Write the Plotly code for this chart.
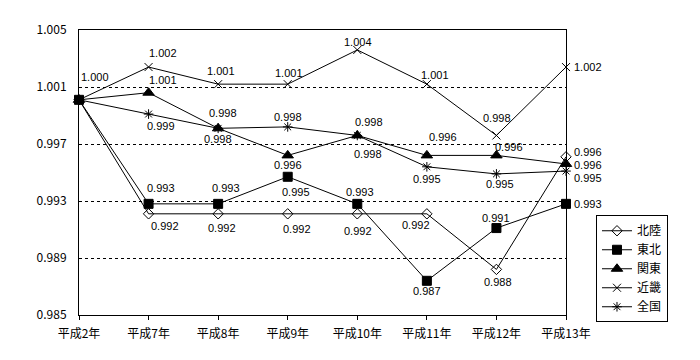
import plotly.graph_objects as go

categories = ["平成2年", "平成7年", "平成8年", "平成9年", "平成10年", "平成11年", "平成12年", "平成13年"]
hokuriku = [1.0001, 0.9921, 0.9921, 0.9921, 0.9921, 0.9921, 0.9882, 0.9961]
tohoku = [1.0001, 0.9928, 0.9928, 0.9947, 0.9928, 0.9874, 0.9911, 0.9928]
kanto = [1.0001, 1.0006, 0.9981, 0.9962, 0.9976, 0.9962, 0.9962, 0.9956]
kinki = [1.0001, 1.0024, 1.0012, 1.0012, 1.0036, 1.0012, 0.9976, 1.0024]
zenkoku = [1.0001, 0.9991, 0.9981, 0.9982, 0.9976, 0.9954, 0.9949, 0.9951]
series_names = ["北陸", "東北", "関東", "近畿", "全国"]
y_ticks = [0.985, 0.989, 0.993, 0.997, 1.001, 1.005]

series_vals = [hokuriku, tohoku, kanto, kinki, zenkoku]
symbols = ["diamond-open", "square", "triangle-up", "x-thin-open", "asterisk-open"]
sizes = [8, 9, 10, 8, 8]

# label offsets (dx, dy in px; dy positive = down), None = no label
offsets = {
    "北陸": [None, (16, 12), (4, 14), (9, 15), (1, 17), (-11, 11), (2, 13), (22, -5)],
    "東北": [None, (12, -16), (8, -16), (8, 15), (3, -12), (0, 10), (0, -10), (22, 0)],
    "関東": [None, (14, -13), (0, 11), (0, 10), (11, 19), (16, -18), (13, -8), (22, 1)],
    "近畿": [(16, -23), (14, -14), (3, -13), (1, -11), (1, -8), (8, -9), (1, -17), (22, 0)],
    "全国": [None, (12, 12), (5, -15), (0, -10), (12, -13), (0, 12), (4, 10), (22, 7)],
}

FONT = "Noto Sans CJK JP"
LABEL_FONT = "Liberation Sans"
xs = list(range(len(categories)))
fig = go.Figure()
annotations = []
for name, vals, sym, sz in zip(series_names, series_vals, symbols, sizes):
    fig.add_trace(go.Scatter(
        x=xs, y=vals, name=name, mode="lines+markers",
        line=dict(color="black", width=1),
        marker=dict(symbol=sym, size=sz, color="black",
                    line=dict(color="black", width=1)),
        cliponaxis=False,
    ))
    for i, v in enumerate(vals):
        off = offsets[name][i]
        if off is None:
            continue
        annotations.append(dict(
            x=i, y=v, xref="x", yref="y", text=f"{v:.3f}", showarrow=False,
            xshift=off[0], yshift=-off[1],
            font=dict(family=LABEL_FONT, size=11, color="black"),
        ))

# page body has an 8px margin: figure is 692x352 placed at (8, 8)
fig.update_layout(
    width=692, height=352,
    margin=dict(l=71, r=134, t=22, b=45),
    paper_bgcolor="white", plot_bgcolor="white",
    font=dict(family=FONT, size=12, color="black"),
    annotations=annotations,
    legend=dict(
        x=1.0616, y=0.35, xanchor="left", yanchor="top",
        bordercolor="black", borderwidth=1, bgcolor="white",
        font=dict(family=FONT, size=12, color="black"),
        itemwidth=30, tracegroupgap=0,
    ),
    showlegend=True,
)
fig.update_xaxes(
    range=[0, len(categories) - 1], tickvals=xs, ticktext=categories,
    showgrid=False, zeroline=False,
    showline=True, linecolor="black", linewidth=1, mirror=True,
    ticks="outside", ticklen=4, tickcolor="black",
    tickfont=dict(family=FONT, size=12), ticklabelstandoff=4,
)
fig.update_yaxes(
    range=[0.985, 1.005], tickvals=y_ticks, ticktext=[f"{t:.3f}" for t in y_ticks],
    showgrid=True, gridcolor="black", gridwidth=1, griddash="dot",
    zeroline=False,
    showline=True, linecolor="black", linewidth=1, mirror=True,
    ticks="", tickfont=dict(family=FONT, size=12), ticklabelstandoff=9,
)
fig.write_html("out.html")
